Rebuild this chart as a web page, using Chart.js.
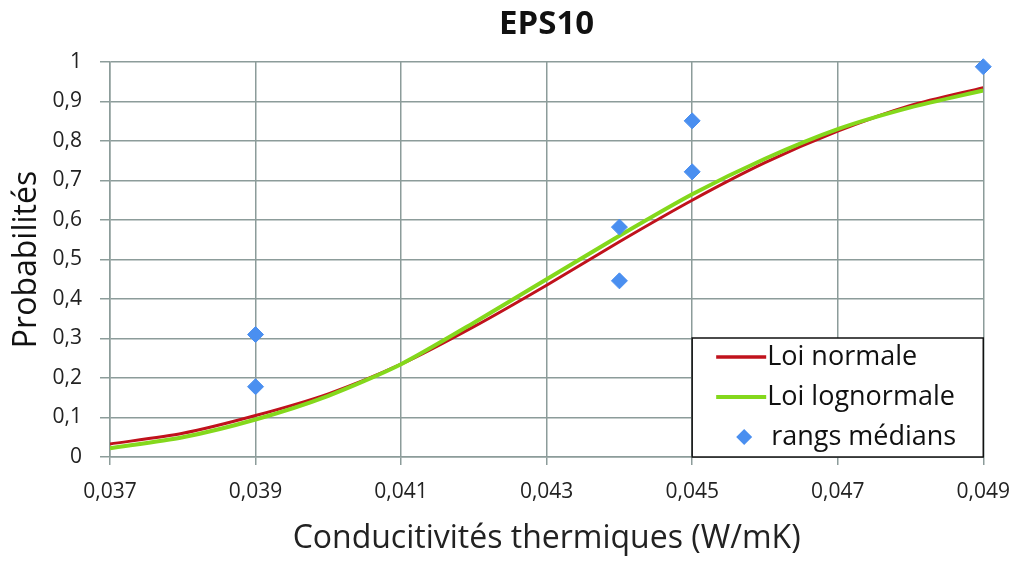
<!DOCTYPE html>
<html>
<head>
<meta charset="utf-8">
<script src="https://cdn.jsdelivr.net/npm/chart.js@4/dist/chart.umd.min.js"></script>
<style>
  html, body { margin: 0; padding: 0; background: #fff; }
  #wrap { width: 1024px; height: 562px; position: relative; }
</style>
</head>
<body>
<div id="wrap"><canvas id="myChart"></canvas></div>
<script>
// conductivites (W/mK) where the curves are sampled
const curveX = [0.037, 0.038, 0.039, 0.040, 0.041, 0.042, 0.043, 0.044, 0.045, 0.046, 0.047, 0.048, 0.049]
const loiNormale = [0.033, 0.060, 0.105, 0.160, 0.235, 0.330, 0.435, 0.545, 0.650, 0.745, 0.825, 0.890, 0.935]
const loiLognormale = [0.022, 0.050, 0.095, 0.155, 0.235, 0.340, 0.450, 0.560, 0.665, 0.755, 0.830, 0.885, 0.928]

// rangs medians
const rangsX = [0.039, 0.039, 0.044, 0.044, 0.045, 0.045, 0.049]
const rangsY = [0.310, 0.178, 0.582, 0.446, 0.851, 0.722, 0.988]

const xTicks = [0.037, 0.039, 0.041, 0.043, 0.045, 0.047, 0.049]
const yTicks = [0, 0.1, 0.2, 0.3, 0.4, 0.5, 0.6, 0.7, 0.8, 0.9, 1]

const red = "#c0121c"
const green = "#84d81c"
const blue = "#4a8ff0"
const gridColor = "#8c9c9a"
const font = "'Open Sans', 'Noto Sans', sans-serif"

function fmt(v, d) {
    return Number(v.toFixed(d)).toString().replace(".", ",")
}

// title centred over the plot + legend box in the bottom right, like the original
const boxLegend = {
    id: "boxLegend",
    afterDatasetsDraw(chart) {
        const ctx = chart.ctx
        const a = chart.chartArea
        ctx.save()
        ctx.fillStyle = "#111"
        ctx.font = "bold 33px " + font
        ctx.textAlign = "center"
        ctx.textBaseline = "middle"
        ctx.fillText("EPS10", (a.left + a.right) / 2, 25)

        const x0 = chart.scales.x.getPixelForValue(0.045)
        const y0 = a.bottom - 119
        const w = a.right - x0
        const h = a.bottom - y0
        ctx.fillStyle = "#fff"
        ctx.fillRect(x0, y0, w, h)
        ctx.strokeStyle = "#111"
        ctx.lineWidth = 1.5
        ctx.strokeRect(x0, y0, w, h)
        const items = [
            { label: "Loi normale", color: red, type: "line" },
            { label: "Loi lognormale", color: green, type: "line" },
            { label: "rangs médians", color: blue, type: "point" }
        ]
        ctx.font = "27px " + font
        ctx.textAlign = "left"
        items.forEach((it, i) => {
            const cy = y0 + 19 + i * 40
            if (it.type == "line") {
                ctx.strokeStyle = it.color
                ctx.lineWidth = it.color == green ? 4 : 3.5
                ctx.beginPath()
                ctx.moveTo(x0 + 24, cy)
                ctx.lineTo(x0 + 74, cy)
                ctx.stroke()
            } else {
                ctx.fillStyle = it.color
                ctx.beginPath()
                ctx.moveTo(x0 + 52, cy - 8)
                ctx.lineTo(x0 + 60, cy)
                ctx.lineTo(x0 + 52, cy + 8)
                ctx.lineTo(x0 + 44, cy)
                ctx.closePath()
                ctx.fill()
            }
            ctx.fillStyle = "#111"
            ctx.fillText(it.label, x0 + (it.type == "line" ? 75 : 79), cy)
        })
        ctx.restore()
    }
}

const ctx = document.getElementById("myChart")
const myChart = new Chart(ctx, {
    type: "scatter",
    data: {
        datasets: [{
            label: "rangs médians",
            data: rangsX.map((x, i) => ({ x: x, y: rangsY[i] })),
            backgroundColor: blue,
            borderColor: blue,
            pointStyle: "rectRot",
            pointRadius: 8,
            pointHoverRadius: 8,
            showLine: false,
            clip: false,
            order: 0
        }, {
            label: "Loi lognormale",
            data: curveX.map((x, i) => ({ x: x, y: loiLognormale[i] })),
            borderColor: green,
            borderWidth: 4,
            pointRadius: 0,
            showLine: true,
            tension: 0.25,
            order: 1
        }, {
            label: "Loi normale",
            data: curveX.map((x, i) => ({ x: x, y: loiNormale[i] })),
            borderColor: red,
            borderWidth: 3,
            pointRadius: 0,
            showLine: true,
            tension: 0.25,
            order: 2
        }]
    },
    options: {
        responsive: true,
        maintainAspectRatio: false,
        animation: false,
        layout: { padding: { left: 0, right: 35, top: 62, bottom: 0 } },
        plugins: {
            legend: { display: false },
            tooltip: { enabled: false },
            title: { display: false }
        },
        scales: {
            x: {
                type: "linear",
                min: 0.037,
                max: 0.049,
                afterBuildTicks: (s) => { s.ticks = xTicks.map(v => ({ value: v })) },
                afterFit: (s) => { s.height = 105 },
                grid: { color: gridColor, lineWidth: 1.5, tickLength: 8 },
                border: { color: gridColor, width: 1.5 },
                ticks: {
                    color: "#222",
                    font: { family: font, size: 21 },
                    padding: 14,
                    maxRotation: 0,
                    callback: (v) => fmt(v, 3)
                },
                title: {
                    display: true,
                    text: "Conducitivités thermiques (W/mK)",
                    color: "#222",
                    font: { family: font, size: 32 },
                    padding: { top: 5 }
                }
            },
            y: {
                min: 0,
                max: 1,
                afterBuildTicks: (s) => { s.ticks = yTicks.map(v => ({ value: v })) },
                afterFit: (s) => { s.width = 110 },
                grid: { color: gridColor, lineWidth: 1.5, tickLength: 10 },
                border: { color: gridColor, width: 1.5 },
                ticks: {
                    color: "#222",
                    font: { family: font, size: 21 },
                    padding: 18,
                    callback: (v) => fmt(v, 1)
                },
                title: {
                    display: true,
                    text: "Probabilités",
                    color: "#111",
                    font: { family: font, size: 32 },
                    padding: { top: 8, bottom: 0 }
                }
            }
        }
    },
    plugins: [boxLegend]
})
</script>
</body>
</html>
